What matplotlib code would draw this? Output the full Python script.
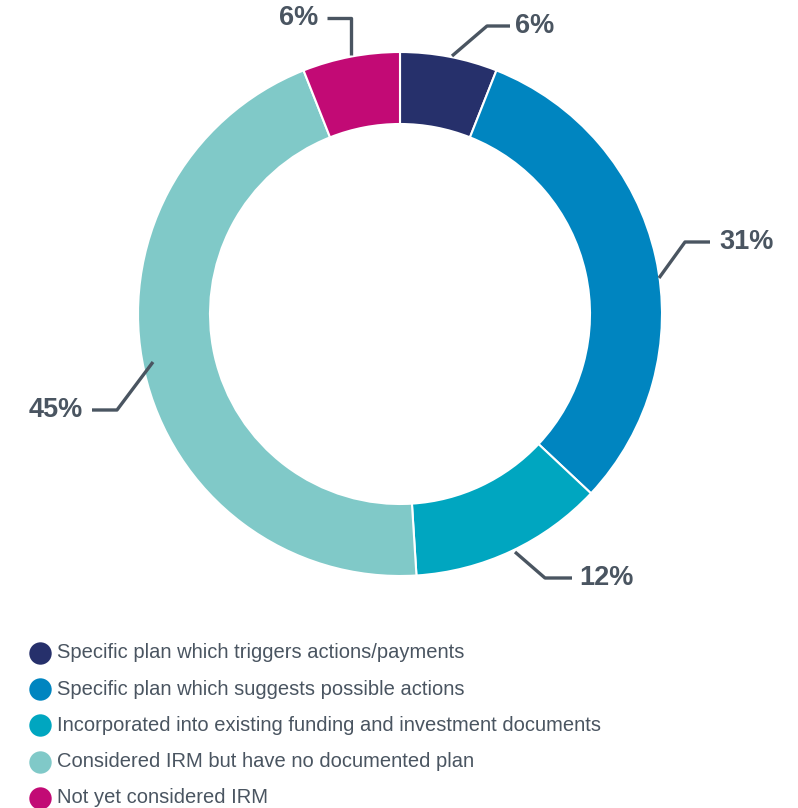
import matplotlib.pyplot as plt

# data
labels = ["Specific plan which triggers actions/payments",
          "Specific plan which suggests possible actions",
          "Incorporated into existing funding and investment documents",
          "Considered IRM but have no documented plan",
          "Not yet considered IRM"]
values = [6, 31, 12, 45, 6]
pct_labels = ["6%", "31%", "12%", "45%", "6%"]
colors = ["#26306b", "#0085c0", "#00a6c0", "#80c9c8", "#c20a75"]

text_col = "#4a5561"
plt.rcParams['font.family'] = ['Liberation Sans', 'DejaVu Sans']

W, H = 798, 808
fig = plt.figure(figsize=(W / 100, H / 100), dpi=100)
ax = fig.add_axes([0, 0, 1, 1])

# donut, image coords converted (y up)
cx, cy = 400, H - 314
ax.pie(values, colors=colors, startangle=90, counterclock=False,
       center=(cx, cy), radius=262,
       wedgeprops=dict(width=72, edgecolor="white", linewidth=1.5))

# leader lines: (edge point, elbow, end), text anchor
leaders = [
    ([(452, 56), (487, 26), (510, 26)], (515, 26), "left"),
    ([(659, 278), (685, 242), (710, 242)], (719, 242), "left"),
    ([(515, 552), (545, 578), (572, 578)], (579, 578), "left"),
    ([(153, 362), (117, 410), (92, 410)], (83, 410), "right"),
    ([(351, 55), (351, 18), (327, 18)], (318, 18), "right"),
]
for (pts, (tx, ty), ha), lab in zip(leaders, pct_labels):
    xs = [p[0] for p in pts]
    ys = [H - p[1] for p in pts]
    ax.plot(xs, ys, color=text_col, lw=2.4, solid_capstyle="butt")
    ax.text(tx, H - ty, lab, ha=ha, va="center", fontsize=19.5,
            fontweight="bold", color=text_col)

# legend
for i, (lab, c) in enumerate(zip(labels, colors)):
    y = H - (653 + i * 36.2)
    ax.scatter([40], [y], s=260, color=c, zorder=3, linewidths=0)
    ax.text(57, y, lab, ha="left", va="center", fontsize=14.5, color=text_col)

ax.set_xlim(0, W)
ax.set_ylim(0, H)
ax.set_aspect("auto")
ax.axis("off")

plt.savefig("out.png", dpi=100)
